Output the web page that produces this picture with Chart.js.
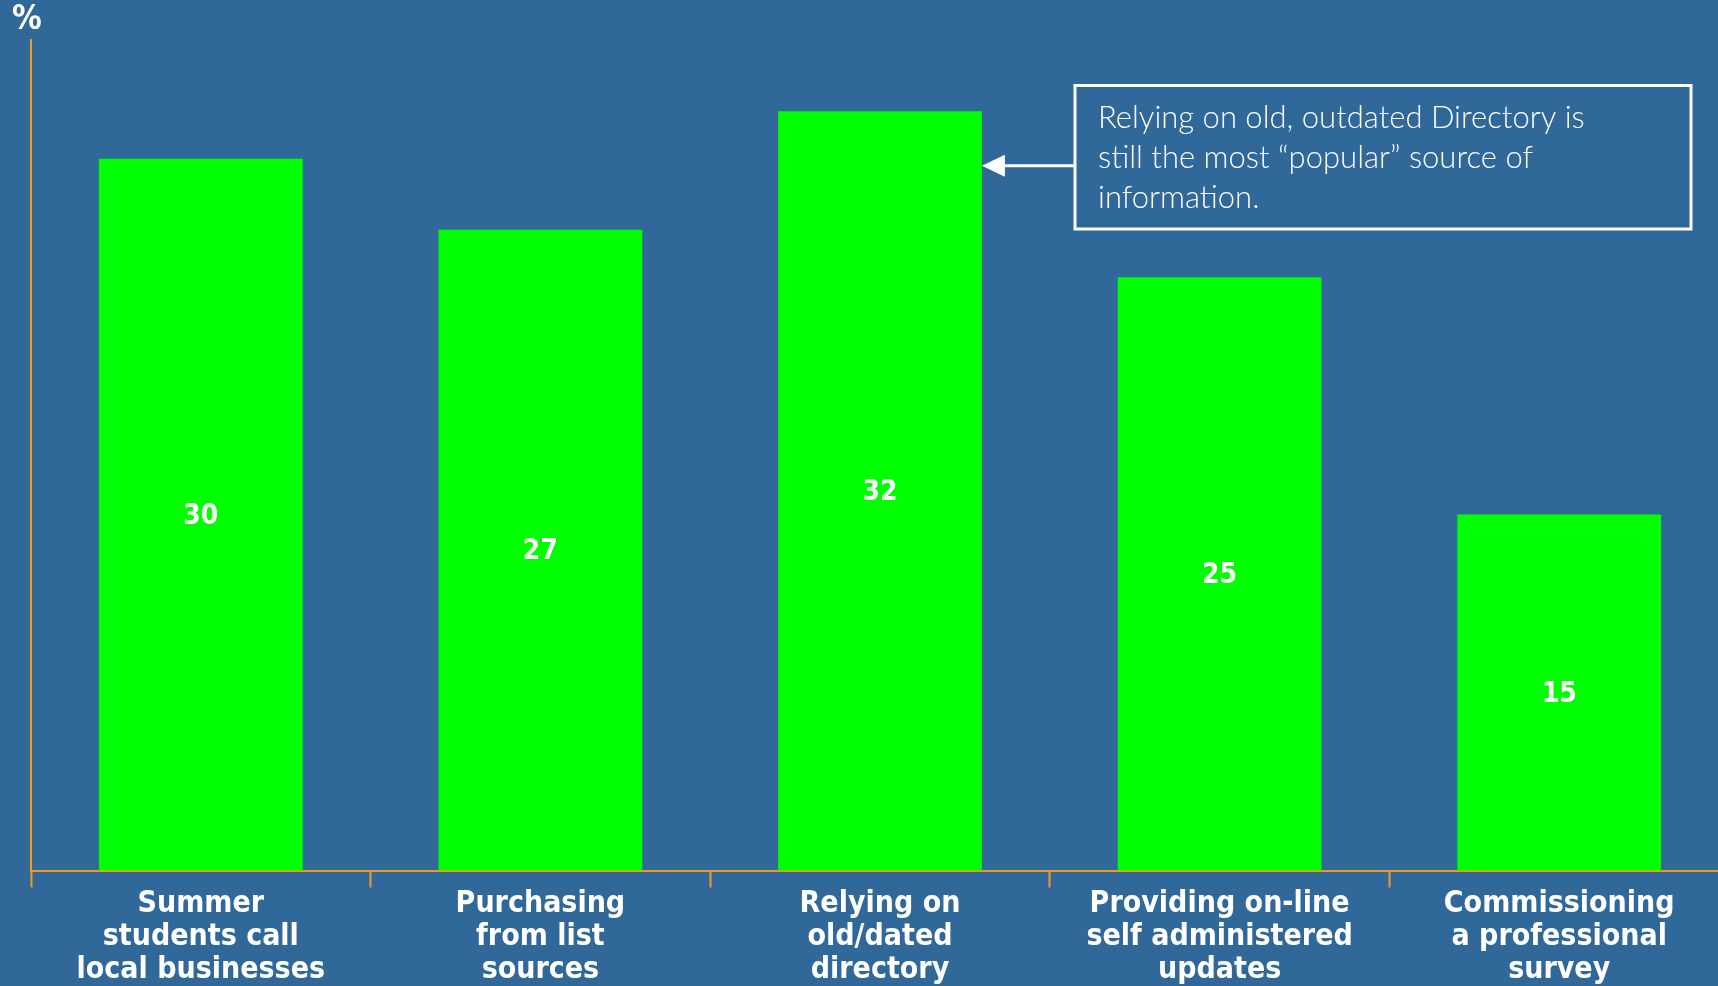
<!DOCTYPE html>
<html>
<head>
<meta charset="utf-8">
<script src="https://cdn.jsdelivr.net/npm/chart.js@4.4.1/dist/chart.umd.min.js"></script>
<style>
  html, body { margin: 0; padding: 0; background: #31689a; overflow: hidden; width: 1718px; height: 986px; }
  #wrap { position: relative; width: 1740px; height: 986px; }
</style>
</head>
<body>
<div id="wrap"><canvas id="c" width="1740" height="986"></canvas></div>
<script>
const categories = [
  ["Summer", "students call", "local businesses"],
  ["Purchasing", "from list", "sources"],
  ["Relying on", "old/dated", "directory"],
  ["Providing on-line", "self administered", "updates"],
  ["Commissioning", "a professional", "survey"]
];
const values = [30, 27, 32, 25, 15];
const yMax = 35;
const yUnitLabel = "%";
const annotationLines = [
  "Relying on old, outdated Directory is",
  "still the most \u201cpopular\u201d source of",
  "information."
];
const annotationTarget = 2;
const annotationValue = 29.7;

const BG = "#31689a";
const ORANGE = "#f39a1e";
const GREEN = "#00ff00";
const LABEL_FONT = "'DejaVu Sans Condensed', 'DejaVu Sans', sans-serif";

const bgPlugin = {
  id: "bg",
  beforeDraw(chart) {
    const ctx = chart.ctx;
    ctx.save();
    ctx.fillStyle = BG;
    ctx.fillRect(0, 0, chart.width, chart.height);
    ctx.restore();
  }
};

const valueLabels = {
  id: "valueLabels",
  afterDatasetsDraw(chart) {
    const ctx = chart.ctx;
    const meta = chart.getDatasetMeta(0);
    ctx.save();
    ctx.fillStyle = "#ffffff";
    ctx.font = "bold 28px " + LABEL_FONT;
    ctx.textAlign = "center";
    ctx.textBaseline = "middle";
    meta.data.forEach((bar, i) => {
      const mid = (bar.y + bar.base) / 2;
      ctx.fillText(String(values[i]), bar.x, mid + 2);
    });
    // % unit label
    ctx.font = "bold 33px " + LABEL_FONT;
    ctx.textAlign = "left";
    ctx.textBaseline = "alphabetic";
    ctx.fillText(yUnitLabel, 12, 29);
    ctx.restore();
  }
};

const annotation = {
  id: "annotation",
  afterDatasetsDraw(chart) {
    const ctx = chart.ctx;
    const bar = chart.getDatasetMeta(0).data[annotationTarget];
    const tipX = bar.x + bar.width / 2;
    const tipY = chart.scales.y.getPixelForValue(annotationValue);
    const boxL = 1075, boxT = 85.5, boxR = 1691, boxB = 229;
    ctx.save();
    ctx.strokeStyle = "#ffffff";
    ctx.lineWidth = 3;
    ctx.strokeRect(boxL, boxT, boxR - boxL, boxB - boxT);
    ctx.beginPath();
    ctx.moveTo(boxL, tipY);
    ctx.lineTo(tipX + 18, tipY);
    ctx.stroke();
    ctx.fillStyle = "#ffffff";
    ctx.beginPath();
    ctx.moveTo(tipX, tipY);
    ctx.lineTo(tipX + 23, tipY - 11);
    ctx.lineTo(tipX + 23, tipY + 11);
    ctx.closePath();
    ctx.fill();
    ctx.font = "300 31px Lato, 'Open Sans', sans-serif";
    ctx.textAlign = "left";
    ctx.textBaseline = "middle";
    annotationLines.forEach((t, i) => {
      ctx.fillText(t, 1098, 118 + i * 40);
    });
    ctx.restore();
  }
};

new Chart(document.getElementById("c"), {
  type: "bar",
  data: {
    labels: categories,
    datasets: [{
      data: values,
      backgroundColor: GREEN,
      borderWidth: 0,
      categoryPercentage: 1.0,
      barPercentage: 0.6
    }]
  },
  options: {
    responsive: false,
    animation: false,
    events: [],
    layout: { padding: { top: 40, right: 11, left: 0, bottom: 0 } },
    plugins: {
      legend: { display: false },
      tooltip: { enabled: false }
    },
    scales: {
      x: {
        offset: true,
        grid: {
          display: true,
          offset: true,
          drawOnChartArea: false,
          drawTicks: true,
          tickLength: 17,
          tickWidth: 2,
          tickColor: ORANGE,
          color: ORANGE
        },
        border: { display: true, color: ORANGE, width: 2 },
        ticks: {
          color: "#ffffff",
          font: { family: LABEL_FONT, weight: "bold", size: 30, lineHeight: 1.1 },
          padding: 0,
          maxRotation: 0,
          autoSkip: false
        },
        afterFit(scale) { scale.height = 115.5; }
      },
      y: {
        min: 0,
        max: yMax,
        grid: { display: false },
        border: { display: true, color: ORANGE, width: 2 },
        ticks: { display: false },
        afterFit(scale) { scale.width = 31; }
      }
    }
  },
  plugins: [bgPlugin, valueLabels, annotation]
});
</script>
</body>
</html>
